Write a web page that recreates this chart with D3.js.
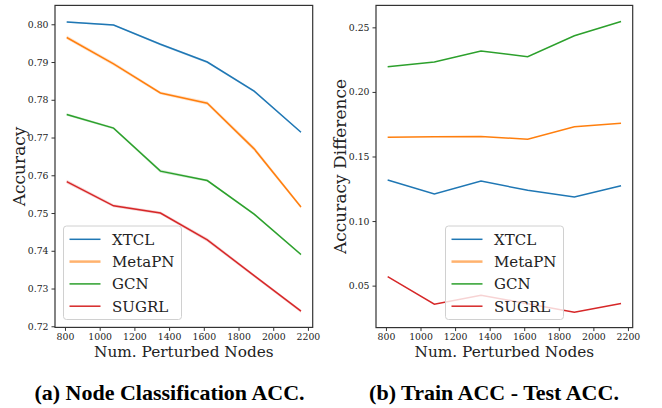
<!DOCTYPE html>
<html>
<head>
<meta charset="utf-8">
<script src="https://cdn.jsdelivr.net/npm/d3@7"></script>
<style>
  body { margin: 0; background: #fff; }
  .tick text { font-family: "DejaVu Serif", serif; font-size: 9.3px; fill: #222; }
  .tick line { stroke: #333; }
</style>
</head>
<body>
<div id="chart"></div>
<script>
// data
var nodes = [810, 1080, 1350, 1620, 1890, 2160];
var methods = ["XTCL", "MetaPN", "GCN", "SUGRL"];

// (a) accuracy
var accXTCL   = [0.8006, 0.7998, 0.7947, 0.7900, 0.7823, 0.7714];
var accMetaPN = [0.7965, 0.7895, 0.7818, 0.7791, 0.7670, 0.7516];
var accGCN    = [0.7761, 0.7725, 0.7611, 0.7586, 0.7497, 0.7390];
var accSUGRL  = [0.7583, 0.7519, 0.7500, 0.7429, 0.7334, 0.7240];
// spread of the shaded bands
var stdXTCL   = [0.0002, 0.0002, 0.0003, 0.0003, 0.0003, 0.0002];
var stdMetaPN = [0.0005, 0.0005, 0.0004, 0.0005, 0.0006, 0.0004];
var stdGCN    = [0.0003, 0.0003, 0.0004, 0.0003, 0.0003, 0.0003];
var stdSUGRL  = [0.0005, 0.0004, 0.0004, 0.0005, 0.0004, 0.0004];

// (b) train acc - test acc
var diffXTCL   = [0.1318, 0.1210, 0.1310, 0.1238, 0.1187, 0.1274];
var diffMetaPN = [0.1649, 0.1653, 0.1655, 0.1633, 0.1731, 0.1757];
var diffGCN    = [0.2195, 0.2231, 0.2317, 0.2273, 0.2435, 0.2546];
var diffSUGRL  = [0.0570, 0.0356, 0.0426, 0.0360, 0.0294, 0.0361];

var xTicks = [800, 1000, 1200, 1400, 1600, 1800, 2000, 2200];
var accTicks = [0.72, 0.73, 0.74, 0.75, 0.76, 0.77, 0.78, 0.79, 0.80];
var diffTicks = [0.05, 0.10, 0.15, 0.20, 0.25];

var colors = ["#1f77b4", "#ff7f0e", "#2ca02c", "#d62728"];

var svg = d3.select("#chart")
    .append("svg")
    .attr("width", 662)
    .attr("height", 408);

function drawPanel(opt) {
    var x = d3.scaleLinear().domain([742.5, 2227.5]).range([opt.left, opt.right]);
    var y = d3.scaleLinear().domain(opt.yDomain).range([opt.bottom, opt.top]);
    var g = svg.append("g");

    var line = d3.line()
        .x(function(d, i) { return x(nodes[i]); })
        .y(function(d) { return y(d); });

    // shaded bands
    if (opt.bands) {
        var area = d3.area()
            .x(function(d, i) { return x(nodes[i]); })
            .y0(function(d) { return y(d[0] - d[1]); })
            .y1(function(d) { return y(d[0] + d[1]); });
        opt.series.forEach(function(s, k) {
            g.append("path")
                .attr("d", area(s.map(function(v, i) { return [v, opt.bands[k][i]]; })))
                .attr("fill", colors[k])
                .attr("opacity", 0.2);
        });
    }

    opt.series.forEach(function(s, k) {
        g.append("path")
            .attr("d", line(s))
            .attr("fill", "none")
            .attr("stroke", colors[k])
            .attr("stroke-width", 1.5);
    });

    // axes
    g.append("g")
        .attr("transform", "translate(0," + opt.bottom + ")")
        .call(d3.axisBottom(x).tickValues(xTicks).tickFormat(d3.format("d")).tickSize(3.5).tickPadding(2.5).tickSizeOuter(0))
        .call(function(a) { a.select(".domain").remove(); });

    g.append("g")
        .attr("transform", "translate(" + opt.left + ",0)")
        .call(d3.axisLeft(y).tickValues(opt.yTicks).tickFormat(d3.format(".2f")).tickSize(3.5).tickPadding(3).tickSizeOuter(0))
        .call(function(a) { a.select(".domain").remove(); });

    // frame
    g.append("rect")
        .attr("x", opt.left)
        .attr("y", opt.top)
        .attr("width", opt.right - opt.left)
        .attr("height", opt.bottom - opt.top)
        .attr("fill", "none")
        .attr("stroke", "#333")
        .attr("stroke-width", 1.2);

    // axis labels
    g.append("text")
        .attr("x", (opt.left + opt.right) / 2)
        .attr("y", 356.5)
        .attr("text-anchor", "middle")
        .attr("fill", "#222")
        .style("font-family", "DejaVu Serif")
        .style("font-size", "15.3px")
        .text("Num. Perturbed Nodes");

    g.append("text")
        .attr("transform", "translate(" + opt.yLabelX + "," + ((opt.top + opt.bottom) / 2) + ") rotate(-90)")
        .attr("text-anchor", "middle")
        .attr("fill", "#222")
        .style("font-family", "DejaVu Serif")
        .style("font-size", "17px")
        .text(opt.yLabel);

    // legend
    var lg = g.append("g").attr("transform", "translate(" + opt.legendX + "," + opt.legendY + ")");
    lg.append("rect")
        .attr("width", 118)
        .attr("height", 93.5)
        .attr("rx", 3)
        .attr("fill", "#fff")
        .attr("fill-opacity", 0.8)
        .attr("stroke", "#d0d0d0");
    methods.forEach(function(m, k) {
        var ly = 13.3 + k * 22.3;
        lg.append("line")
            .attr("x1", 6).attr("x2", 37)
            .attr("y1", ly).attr("y2", ly)
            .attr("stroke", colors[k])
            .attr("stroke-width", k === 1 ? 2.5 : 1.5)
            .attr("stroke-opacity", k === 1 ? 0.6 : 1);
        lg.append("text")
            .attr("x", 48.5)
            .attr("y", ly + 5.3)
            .attr("fill", "#222")
            .style("font-family", "DejaVu Serif")
            .style("font-size", "15px")
            .text(m);
    });

    // caption
    svg.append("text")
        .attr("x", opt.captionX)
        .attr("y", 400)
        .attr("text-anchor", "middle")
        .style("font-family", "Liberation Serif")
        .style("font-weight", "bold")
        .style("font-size", "22px")
        .text(opt.caption);
}

drawPanel({
    left: 55, right: 312.7, top: 5.4, bottom: 327.4,
    yDomain: [0.7197, 0.8050],
    yTicks: accTicks,
    series: [accXTCL, accMetaPN, accGCN, accSUGRL],
    bands: [stdXTCL, stdMetaPN, stdGCN, stdSUGRL],
    yLabel: "Accuracy", yLabelX: 25,
    legendX: 63.5, legendY: 226,
    caption: "(a) Node Classification ACC.", captionX: 169.5
});

drawPanel({
    left: 376, right: 632.7, top: 5.4, bottom: 327.6,
    yDomain: [0.0175, 0.2670],
    yTicks: diffTicks,
    series: [diffXTCL, diffMetaPN, diffGCN, diffSUGRL],
    yLabel: "Accuracy Difference", yLabelX: 345.5,
    legendX: 445.5, legendY: 226,
    caption: "(b) Train ACC - Test ACC.", captionX: 494
});
</script>
</body>
</html>
